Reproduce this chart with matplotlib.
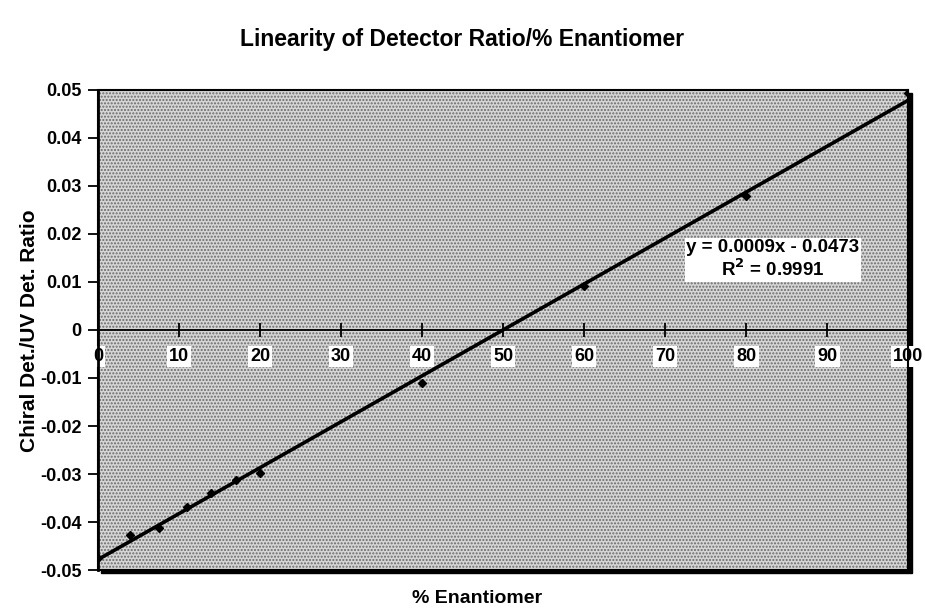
import numpy as np
import matplotlib.pyplot as plt
from matplotlib.patches import Rectangle

# ========================================
# Data
# ========================================

pct_enantiomer = [0, 4, 7.5, 11, 14, 17, 20, 40, 60, 80, 100]
det_ratio = [-0.0475, -0.0427, -0.0412, -0.0368, -0.0339, -0.0313, -0.0298,
             -0.0110, 0.0092, 0.0279, 0.0494]

x_ticks = [0, 10, 20, 30, 40, 50, 60, 70, 80, 90, 100]
y_ticks = [-0.05, -0.04, -0.03, -0.02, -0.01, 0, 0.01, 0.02, 0.03, 0.04, 0.05]
y_tick_labels = ["-0.05", "-0.04", "-0.03", "-0.02", "-0.01", "0",
                 "0.01", "0.02", "0.03", "0.04", "0.05"]

fit_label = "y = 0.0009x - 0.0473\nR$^2$ = 0.9991"

# ========================================
# Plot
# ========================================

plt.rcParams['font.family'] = ['Liberation Sans', 'DejaVu Sans']
plt.rcParams['font.weight'] = 'bold'

fig = plt.figure(figsize=(9.25, 6.12), dpi=100)
ax = fig.add_axes([0.106, 0.0686, 0.876, 0.7844])
ax.set_facecolor('#d6d6d6')
# stippled plot area
ax.add_patch(Rectangle((0, 0), 1, 1, transform=ax.transAxes, facecolor='none',
                       edgecolor='#6a6a6a', hatch='.....', lw=0, zorder=0))

# drop shadow behind the plot area
fig.patches.append(Rectangle((0.106 + 0.0035, 0.0686 - 0.0055), 0.876, 0.7844,
                             transform=fig.transFigure, color='black', zorder=-1))

ax.set_xlim(0, 100)
ax.set_ylim(-0.05, 0.05)

# linear trendline
slope, intercept = np.polyfit(pct_enantiomer, det_ratio, 1)
xs = np.array([0, 100])
ax.plot(xs, slope * xs + intercept, color='black', lw=2.6, zorder=3)
ax.plot(pct_enantiomer, det_ratio, linestyle='none', marker='D', ms=4.5,
        color='black', zorder=4)

# x axis drawn through y = 0
ax.spines['bottom'].set_position(('data', 0))
ax.spines['bottom'].set_linewidth(1.3)
ax.spines['left'].set_linewidth(2.0)
ax.spines['top'].set_linewidth(1.2)
ax.spines['right'].set_linewidth(1.5)
ax.add_patch(Rectangle((0, -0.05), 100, 0.1, fill=False, lw=1.5,
                       edgecolor='black', transform=ax.transData, clip_on=False))

ax.set_xticks(x_ticks)
ax.set_xticklabels([str(t) for t in x_ticks])
ax.tick_params(axis='x', direction='inout', length=10, width=1.3, pad=8,
               labelsize=13)
for lbl in ax.get_xticklabels():
    lbl.set_bbox(dict(facecolor='white', edgecolor='none', pad=1.5))

ax.set_yticks(y_ticks)
ax.set_yticklabels(y_tick_labels)
ax.tick_params(axis='y', direction='out', length=7, width=1.3, pad=5,
               labelsize=13)

ax.text(83.3, 0.0146, fit_label, ha='center', va='center', fontsize=13.5,
        linespacing=1.15, zorder=5,
        bbox=dict(facecolor='white', edgecolor='none', pad=1))

fig.suptitle("Linearity of Detector Ratio/% Enantiomer", y=0.955,
             fontsize=16.5, fontweight='bold')
fig.text(0.516, 0.008, "% Enantiomer", ha='center', va='bottom',
         fontsize=14, fontweight='bold')
fig.text(0.032, 0.459, "Chiral Det./UV Det. Ratio", rotation=90, ha='center',
         va='center', fontsize=15, fontweight='bold')

plt.savefig("out.png", dpi=100)
plt.close()
